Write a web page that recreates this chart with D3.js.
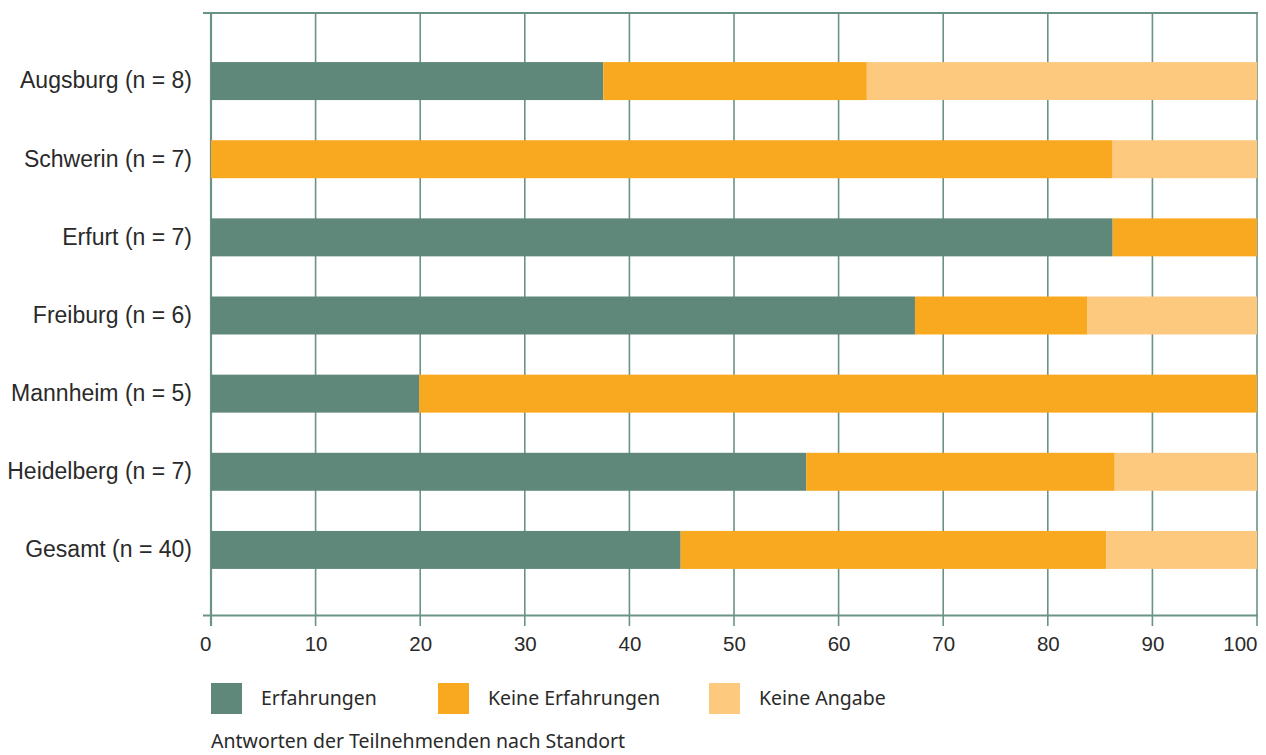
<!DOCTYPE html>
<html>
<head>
<meta charset="utf-8">
<script src="https://cdn.jsdelivr.net/npm/d3@7"></script>
<style>
  html, body { margin: 0; padding: 0; background: #ffffff; }
  svg { display: block; font-family: "Noto Sans", "Open Sans", sans-serif; }
  .cat { font-variant-numeric: oldstyle-nums; }
</style>
</head>
<body>
<svg id="chart" width="1266" height="755"></svg>
<script>
// ---- data ----
const categories = ["Augsburg (n = 8)", "Schwerin (n = 7)", "Erfurt (n = 7)", "Freiburg (n = 6)", "Mannheim (n = 5)", "Heidelberg (n = 7)", "Gesamt (n = 40)"];
const seriesNames = ["Erfahrungen", "Keine Erfahrungen", "Keine Angabe"];
const erfahrungen      = [37.5, 0,    86.2, 67.3, 19.9, 56.9, 44.9];
const keineErfahrungen = [25.2, 86.2, 13.8, 16.5, 80.1, 29.5, 40.7];
const keineAngabe      = [37.3, 13.8, 0,    16.2, 0,    13.6, 14.4];
const xTickValues = [0, 10, 20, 30, 40, 50, 60, 70, 80, 90, 100];
const caption = "Antworten der Teilnehmenden nach Standort";

// ---- styles ----
const colors = ["#5f887b", "#f9a91f", "#fdc97f"];
const gridColor = "#6a9386";
const textColor = "#2a2a2a";

const rows = categories.map((c, i) => ({
  cat: c,
  [seriesNames[0]]: erfahrungen[i],
  [seriesNames[1]]: keineErfahrungen[i],
  [seriesNames[2]]: keineAngabe[i]
}));

const svg = d3.select("#chart");

const x = d3.scaleLinear().domain([0, 100]).range([211, 1257]);
const y = d3.scaleBand().domain(categories).range([42, 589])
  .paddingInner(0.514).paddingOuter(0.257);
const color = d3.scaleOrdinal().domain(seriesNames).range(colors);

const plotTop = 13, axisY = 615.5;

// top frame line
svg.append("line")
  .attr("x1", 203).attr("x2", 1258)
  .attr("y1", plotTop).attr("y2", plotTop)
  .attr("stroke", gridColor).attr("stroke-width", 2);

// vertical gridlines (extend below axis as ticks)
svg.append("g").selectAll("line").data(xTickValues).join("line")
  .attr("x1", d => x(d)).attr("x2", d => x(d))
  .attr("y1", plotTop).attr("y2", 626)
  .attr("stroke", gridColor)
  .attr("stroke-width", d => d === 0 ? 2.2 : 1.6);

// bars
const stack = d3.stack().keys(seriesNames);
const layers = stack(rows);
svg.append("g").selectAll("g").data(layers).join("g")
  .attr("fill", d => color(d.key))
  .selectAll("rect").data(d => d).join("rect")
  .attr("x", d => x(d[0]))
  .attr("y", d => y(d.data.cat))
  .attr("width", d => Math.max(0, x(d[1]) - x(d[0])))
  .attr("height", y.bandwidth());

// bottom axis line
svg.append("line")
  .attr("x1", 203).attr("x2", 1258)
  .attr("y1", axisY).attr("y2", axisY)
  .attr("stroke", gridColor).attr("stroke-width", 2.2);

// x axis labels
const xAxis = d3.axisBottom(x).tickValues(xTickValues).tickSize(0).tickPadding(21);
const gx = svg.append("g").attr("transform", `translate(0,${axisY})`).call(xAxis);
gx.select(".domain").remove();
gx.selectAll("text")
  .attr("fill", textColor)
  .style("font-size", "20.5px")
  .attr("text-anchor", (d, i) => (i === 0 || i === xTickValues.length - 1) ? "end" : "middle");

// category labels
const yAxis = d3.axisLeft(y).tickSize(0).tickPadding(0);
const gy = svg.append("g").attr("transform", "translate(192,0)").call(yAxis);
gy.select(".domain").remove();
gy.selectAll("text")
  .attr("class", "cat")
  .attr("fill", textColor)
  .style("font-size", "23px");

// legend
const legendX = [211, 438, 709];
const lg = svg.append("g").selectAll("g").data(seriesNames).join("g")
  .attr("transform", (d, i) => `translate(${legendX[i]},683)`);
lg.append("rect").attr("width", 31).attr("height", 31).attr("fill", d => color(d));
lg.append("text").attr("x", 50).attr("y", 15.5).attr("dy", "0.35em")
  .attr("fill", textColor).style("font-size", "19.5px").text(d => d);

// caption
svg.append("text").attr("x", 211).attr("y", 748)
  .attr("fill", textColor).style("font-size", "19.5px").text(caption);
</script>
</body>
</html>
